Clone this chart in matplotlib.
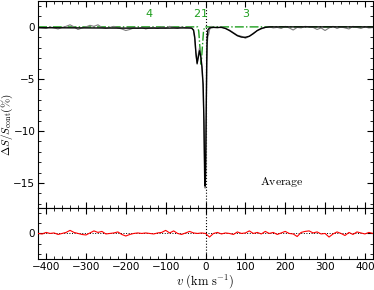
import matplotlib
matplotlib.use("Agg")
import matplotlib.pyplot as plt
from matplotlib.ticker import MultipleLocator

plt.rcParams["mathtext.fontset"] = "cm"
plt.rcParams["font.size"] = 8

# =========================
# DATA
# =========================
# observed profile (grey)
v_obs = [-420, -410, -400, -390, -380, -370, -360, -350, -340, -330, -320, -310,
         -300, -290, -280, -270, -260, -250, -240, -230, -220, -210, -200, -190,
         -180, -170, -160, -150, -140, -130, -120, -110, -100, -90, -80, -70, -60,
         -50, -40, -34, -30, -27, -24, -21, -18, -15, -12, -9, -6, -4, -2, -1, 0,
         1, 2, 3, 4, 6, 8, 10, 14, 20, 30, 40, 50, 60, 70, 80, 90, 100, 110, 120,
         130, 140, 150, 160, 170, 180, 190, 200, 210, 220, 230, 240, 250, 260, 270,
         280, 290, 300, 310, 320, 330, 340, 350, 360, 370, 380, 390, 400, 410, 420]
s_obs = [-0.05, -0.1, -0.15, 0.0, -0.1, -0.2, -0.05, 0.05, 0.2, 0.0, -0.25, -0.1,
         0.0, 0.15, 0.05, 0.2, -0.05, -0.15, -0.05, 0.05, -0.1, -0.2, -0.35, -0.25,
         -0.1, -0.15, -0.05, -0.2, -0.1, -0.05, -0.15, 0.0, -0.1, 0.05, -0.05, -0.15, 0.0,
         -0.1, -0.05, -0.1, -0.4, -1.2, -2.8, -3.6, -2.6, -2.0, -2.9, -4.0, -6.0, -9.5, -14.0, -15.5, -15.2,
         -13.0, -9.0, -4.5, -1.8, -0.9, -0.7, -0.3, 0.05, -0.05, -0.1, 0.0, -0.15, -0.3, -0.55, -0.8, -0.9, -1.1, -0.9, -0.6,
         -0.35, -0.2, -0.05, 0.0, -0.1, -0.05, -0.15, 0.05, -0.1, -0.3, -0.05, -0.1, 0.05, 0.0, -0.05,
         -0.25, -0.1, -0.35, -0.1, 0.05, -0.15, 0.0, -0.1, -0.2, 0.05, -0.05, -0.15, 0.0, -0.1, -0.05]

# total fit (black)
v_fit = [-420, -300, -200, -100, -50, -35, -30, -27, -24, -21, -18, -15, -12, -9,
         -6, -4, -3, -2, -1, 0, 1, 2, 3, 4, 6, 10, 20, 40, 50, 60, 70, 80, 90, 100,
         110, 120, 130, 140, 150, 160, 250, 420]
s_fit = [-0.08, -0.1, -0.12, -0.12, -0.1, -0.12, -0.3, -1.0, -2.5, -3.5, -2.9, -2.3, -2.8, -3.8,
         -5.5, -9.0, -12.0, -14.8, -15.3, -14.2, -11.0, -7.0, -3.5, -1.2, -0.3, -0.1, -0.05, -0.05, -0.15, -0.35, -0.6, -0.85, -0.98, -1.0,
         -0.9, -0.65, -0.35, -0.15, -0.05, 0.0, 0.0, 0.0]

# component (green dash-dot)
v_comp = [-420, -20, -17, -14, -11, -8, -5, -2, 420]
s_comp = [0.0, 0.0, -0.4, -2.0, -3.6, -2.0, -0.4, 0.0, 0.0]

# residuals (red)
v_res = [-420, -410, -400, -390, -380, -370, -360, -350, -340, -330, -320, -310,
         -300, -290, -280, -270, -260, -250, -240, -230, -220, -210, -200, -190,
         -180, -170, -160, -150, -140, -130, -120, -110, -100, -90, -80, -70, -60,
         -50, -40, -30, -20, -10, 0, 10, 20, 30, 40, 50, 60, 70, 80, 90, 100, 110,
         120, 130, 140, 150, 160, 170, 180, 190, 200, 210, 220, 230, 240, 250, 260,
         270, 280, 290, 300, 310, 320, 330, 340, 350, 360, 370, 380, 390, 400, 410, 420]
s_res = [0.0, -0.05, 0.1, 0.0, 0.05, -0.1, 0.0, 0.1, 0.3, 0.1, 0.0, -0.1,
         -0.15, 0.05, 0.25, 0.1, 0.2, -0.05, 0.0, 0.05, 0.15, -0.1, -0.25, -0.1,
         0.0, 0.05, 0.0, 0.05, 0.0, -0.05, 0.05, 0.1, 0.3, 0.05, 0.25, 0.0, -0.1,
         0.05, 0.2, 0.05, 0.0, 0.05, 0.0, -0.35, 0.0, 0.1, -0.05, 0.05, 0.0, -0.1, 0.15, 0.0, 0.05, 0.25,
         0.0, 0.1, -0.05, 0.2, 0.0, 0.1, -0.1, 0.05, 0.2, 0.0, -0.05, -0.3, 0.1, 0.2, 0.25,
         0.05, 0.15, -0.05, 0.0, -0.35, -0.05, 0.15, 0.0, -0.2, 0.1, -0.1, 0.15, 0.05, -0.05, 0.1, 0.0]

comp_labels = ["4", "2", "1", "3"]
comp_pos = [-142, -23, -2, 102]

# =========================
# FIGURE
# =========================
fig = plt.figure(figsize=(3.74, 2.90), dpi=100)
ax1 = fig.add_axes([0.102, 0.283, 0.895, 0.714])
ax2 = fig.add_axes([0.102, 0.107, 0.895, 0.176], sharex=ax1)

green = "#1e9e1e"

ax1.plot(v_comp, s_comp, color=green, ls="-.", lw=1.0, zorder=2)
ax1.plot(v_obs, s_obs, color="#808080", lw=0.8, zorder=3)
ax1.plot(v_fit, s_fit, color="black", lw=1.0, zorder=4)
ax1.axvline(0, color="black", ls=":", lw=0.8, zorder=1)
for lab, pos in zip(comp_labels, comp_pos):
    ax1.text(pos, 1.25, lab, color=green, ha="center", va="center", fontsize=8)
ax1.text(191, -14.9, r"$\mathrm{Average}$", ha="center", va="center", fontsize=8.5)

ax2.plot(v_res, s_res, color="red", lw=0.8, zorder=3)
ax2.axhline(0, color="black", ls=":", lw=0.7, zorder=1)
ax2.axvline(0, color="black", ls=":", lw=0.8, zorder=1)

ax1.set_xlim(-420, 420)
ax1.set_ylim(-17.4, 2.5)
ax2.set_ylim(-2.5, 2.5)

ax1.yaxis.set_major_locator(MultipleLocator(5))
ax1.yaxis.set_minor_locator(MultipleLocator(1))
ax2.yaxis.set_major_locator(MultipleLocator(5))
ax2.yaxis.set_minor_locator(MultipleLocator(1))
ax2.xaxis.set_major_locator(MultipleLocator(100))
ax2.xaxis.set_minor_locator(MultipleLocator(20))

for ax in (ax1, ax2):
    ax.tick_params(which="both", direction="in", top=True, right=True,
                   labelsize=7.5, pad=2)
    ax.tick_params(which="major", length=4)
    ax.tick_params(which="minor", length=2)
plt.setp(ax1.get_xticklabels(), visible=False)

ax2.set_xlabel(r"$v\ (\mathrm{km\ s^{-1}})$", fontsize=9, labelpad=0)
fig.text(0.02, 0.57, r"$\Delta S/S_{\rm cont}(\%)$", rotation=90,
         ha="center", va="center", fontsize=8)

fig.savefig("out.png", dpi=100)
